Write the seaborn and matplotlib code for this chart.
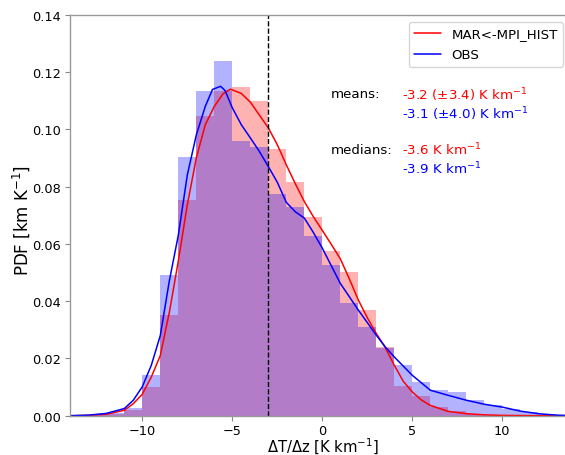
import numpy as np
import pandas as pd
import matplotlib
matplotlib.use("Agg")
import matplotlib.pyplot as plt
import seaborn as sns

# ---- data -------------------------------------------------------------
bin_edges = list(range(-14, 15))
bin_centers = [e + 0.5 for e in range(-14, 14)]

mar_hist = [0.0, 0.0001, 0.0006, 0.0019, 0.0100, 0.0350, 0.0754, 0.1045,
            0.1133, 0.1148, 0.1098, 0.0930, 0.0816, 0.0693, 0.0576, 0.0500,
            0.0370, 0.0239, 0.0103, 0.0069, 0.0030, 0.0017, 0.0006, 0.0003,
            0.0001, 0.0001, 0.0, 0.0]
obs_hist = [0.0, 0.0002, 0.0008, 0.0027, 0.0141, 0.0490, 0.0903, 0.1133,
            0.1237, 0.0958, 0.0939, 0.0775, 0.0727, 0.0629, 0.0526, 0.0394,
            0.0309, 0.0235, 0.0176, 0.0118, 0.0089, 0.0083, 0.0054, 0.0039,
            0.0025, 0.0013, 0.0006, 0.0003]

mar_kde_x = [-14, -13, -12, -11, -10.5, -10, -9.5, -9, -8.5, -8, -7.5, -7,
             -6.5, -6, -5.5, -5.1, -4.5, -4, -3.5, -3, -2.5, -2, -1.5, -1,
             -0.5, 0, 0.5, 1, 1.5, 2, 2.5, 3, 3.5, 4, 4.5, 5, 5.5, 6, 7, 8,
             9, 10, 11, 12, 13.5]
mar_kde_y = [0.0, 0.0001, 0.0005, 0.0019, 0.0042, 0.0075, 0.0135, 0.0210,
             0.0360, 0.0540, 0.0736, 0.0900, 0.1016, 0.1080, 0.1125, 0.1140,
             0.1125, 0.1095, 0.1050, 0.1005, 0.0946, 0.0876, 0.0810, 0.0748,
             0.0695, 0.0647, 0.0598, 0.0548, 0.0478, 0.0404, 0.0342, 0.0287,
             0.0238, 0.0176, 0.0120, 0.0083, 0.0055, 0.0036, 0.0015, 0.0007,
             0.0003, 0.0001, 0.00005, 0.0, 0.0]

obs_kde_x = [-14, -13, -12, -11, -10.5, -10, -9.5, -9, -8.5, -8, -7.5, -7,
             -6.5, -6.1, -5.65, -5.4, -5, -4.5, -4, -3.5, -3, -2.5, -2, -1.5,
             -1, -0.5, 0, 1, 2, 3, 3.5, 4, 5, 6, 7, 8, 9, 10, 11, 12, 13,
             13.5]
obs_kde_y = [0.0, 0.0002, 0.0008, 0.0025, 0.0054, 0.0101, 0.0176, 0.0280,
             0.0470, 0.0630, 0.0840, 0.0980, 0.1080, 0.1139, 0.1150, 0.1135,
             0.1075, 0.1016, 0.0970, 0.0923, 0.0870, 0.0815, 0.0745, 0.0712,
             0.0690, 0.0640, 0.0585, 0.0462, 0.0369, 0.0281, 0.0240, 0.0205,
             0.0141, 0.0089, 0.0071, 0.0054, 0.0040, 0.0030, 0.0016, 0.0007,
             0.0002, 0.0001]

series_names = ["MAR<-MPI_HIST", "OBS"]
series_colors = ["red", "blue"]
vline_x = -3
x_ticks = [-10, -5, 0, 5, 10]
y_ticks = [0.00, 0.02, 0.04, 0.06, 0.08, 0.10, 0.12, 0.14]

# ---- figure -----------------------------------------------------------
sns.set_style("ticks")
plt.rcParams['font.family'] = ['DejaVu Sans']
plt.rcParams['text.color'] = 'black'
plt.rcParams['axes.labelcolor'] = 'black'
plt.rcParams['xtick.labelcolor'] = 'black'
plt.rcParams['ytick.labelcolor'] = 'black'

W, H = 565, 456
fig = plt.figure(figsize=(W / 100, H / 100), dpi=100)
left_px, right_px, top_px, bot_px = 70.3, 574.3, 15.7, 416.7
ax = fig.add_axes([left_px / W, 1 - bot_px / H,
                   (right_px - left_px) / W, (bot_px - top_px) / H])

sns.histplot(x=bin_centers, weights=mar_hist, bins=bin_edges, stat="count",
             color=series_colors[0], alpha=0.3, linewidth=0, ax=ax)
sns.histplot(x=bin_centers, weights=obs_hist, bins=bin_edges, stat="count",
             color=series_colors[1], alpha=0.3, linewidth=0, ax=ax)

sns.lineplot(x=mar_kde_x, y=mar_kde_y, color=series_colors[0], lw=1.1,
             sort=False, estimator=None, label=series_names[0], ax=ax)
sns.lineplot(x=obs_kde_x, y=obs_kde_y, color=series_colors[1], lw=1.1,
             sort=False, estimator=None, label=series_names[1], ax=ax)

ax.axvline(vline_x, color="black", ls="--", lw=1.0)

ax.set_xlim(-14, 14)
ax.set_ylim(0, 0.14)
ax.set_xticks(x_ticks)
ax.set_yticks(y_ticks)
ax.set_yticklabels([f"{v:.2f}" for v in y_ticks])
ax.tick_params(labelsize=9.3, length=3.5, color="#888888", labelcolor="black")
ax.tick_params(axis="x", pad=2.5)
for s in ax.spines.values():
    s.set_color("#999999")
    s.set_linewidth(1.0)

ax.set_xlabel(r"$\Delta$T/$\Delta$z [K km$^{-1}$]", fontsize=10.6)
ax.set_ylabel(r"PDF [km K$^{-1}$]", fontsize=12)
ax.xaxis.label.set_va("center")
ax.xaxis.set_label_coords(0.502, -0.0765)
ax.yaxis.label.set_va("center")
ax.yaxis.set_label_coords(-0.097, 0.49)

leg = ax.legend(loc="upper right", bbox_to_anchor=(563 / W, 1 - 23 / H),
                bbox_transform=fig.transFigure, borderaxespad=0,
                fontsize=9.6, labelspacing=0.6, frameon=True)

fs = 9.6
fig.text(331 / W, 1 - 95 / H, "means:", fontsize=fs, va="center", ha="left")
fig.text(402 / W, 1 - 95 / H, r"-3.2 ($\pm$3.4) K km$^{-1}$", color="red",
         fontsize=fs, va="center", ha="left")
fig.text(402 / W, 1 - 114 / H, r"-3.1 ($\pm$4.0) K km$^{-1}$", color="blue",
         fontsize=fs, va="center", ha="left")
fig.text(331 / W, 1 - 150 / H, "medians:", fontsize=fs, va="center", ha="left")
fig.text(402 / W, 1 - 150 / H, r"-3.6 K km$^{-1}$", color="red",
         fontsize=fs, va="center", ha="left")
fig.text(402 / W, 1 - 169 / H, r"-3.9 K km$^{-1}$", color="blue",
         fontsize=fs, va="center", ha="left")

fig.savefig("out.png", dpi=100)
